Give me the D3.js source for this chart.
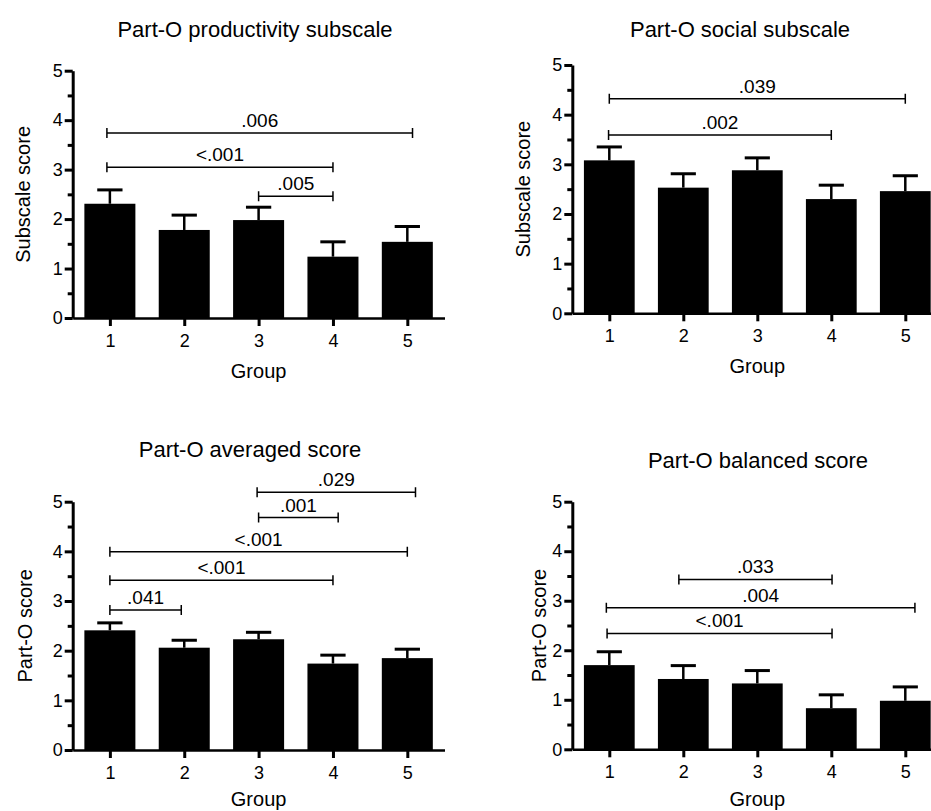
<!DOCTYPE html>
<html>
<head>
<meta charset="utf-8">
<script src="https://cdn.jsdelivr.net/npm/d3@7"></script>
<style>
  body { margin: 0; background: #fff; }
  svg { display: block; font-family: "Liberation Sans", Arial, sans-serif; }
</style>
</head>
<body>
<svg width="931" height="811"></svg>
<script>
// categories and ticks
var groups = [1, 2, 3, 4, 5];
var yTicks = [0, 1, 2, 3, 4, 5];
var yMinorTicks = [0.5, 1.5, 2.5, 3.5, 4.5];

// means and SEM
var productivityMean = [2.31, 1.78, 1.98, 1.24, 1.54];
var productivitySem  = [0.28, 0.30, 0.26, 0.30, 0.31];
var socialMean = [3.08, 2.53, 2.88, 2.30, 2.46];
var socialSem  = [0.27, 0.28, 0.25, 0.28, 0.31];
var averagedMean = [2.41, 2.06, 2.23, 1.74, 1.85];
var averagedSem  = [0.15, 0.15, 0.14, 0.17, 0.18];
var balancedMean = [1.70, 1.42, 1.33, 0.83, 0.98];
var balancedSem  = [0.27, 0.27, 0.26, 0.27, 0.28];

// significance brackets: [from group, to group, height, p label]
var productivityPairs = [[0.96, 5.07, 3.74, ".006"], [0.96, 4.0, 3.05, "<.001"], [3.0, 4.0, 2.46, ".005"]];
var socialPairs = [[1.0, 5.0, 4.32, ".039"], [0.99, 4.0, 3.59, ".002"]];
var averagedPairs = [[2.98, 5.11, 5.19, ".029"], [3.0, 4.07, 4.68, ".001"], [1.0, 5.0, 3.99, "<.001"],
                     [1.0, 4.0, 3.42, "<.001"], [1.0, 1.96, 2.82, ".041"]];
var balancedPairs = [[1.94, 4.01, 3.43, ".033"], [0.96, 5.13, 2.86, ".004"], [0.97, 4.01, 2.34, "<.001"]];

var svg = d3.select("svg");
var barW = 0.686, capW = 0.34;

var panels = [
  {title: "Part-O productivity subscale", ylab: "Subscale score", mean: productivityMean, sem: productivitySem,
   pairs: productivityPairs, left: 72.7, right: 444.5, top: 70.7, bottom: 318, titleX: 255, titleY: 37, ylabOff: 43},
  {title: "Part-O social subscale", ylab: "Subscale score", mean: socialMean, sem: socialSem,
   pairs: socialPairs, left: 572.3, right: 942.3, top: 65, bottom: 313.3, titleX: 740, titleY: 37, ylabOff: 42},
  {title: "Part-O averaged score", ylab: "Part-O score", mean: averagedMean, sem: averagedSem,
   pairs: averagedPairs, left: 72.7, right: 444.5, top: 501.7, bottom: 750, titleX: 250, titleY: 457, ylabOff: 41},
  {title: "Part-O balanced score", ylab: "Part-O score", mean: balancedMean, sem: balancedSem,
   pairs: balancedPairs, left: 572.3, right: 942.3, top: 501.7, bottom: 749.3, titleX: 758, titleY: 468, ylabOff: 26}
];

panels.forEach(function(p) {
  var g = svg.append("g");
  var x = d3.scaleLinear().domain([0.5, 5.5]).range([p.left, p.right]);
  var y = d3.scaleLinear().domain([0, 5]).range([p.bottom, p.top]);

  // error bars (upper only)
  var err = g.append("g").attr("stroke", "#000");
  err.selectAll("line.v").data(p.mean).enter().append("line")
    .attr("x1", (d, i) => x(groups[i])).attr("x2", (d, i) => x(groups[i]))
    .attr("y1", d => y(d)).attr("y2", (d, i) => y(d + p.sem[i]))
    .attr("stroke-width", 2.5);
  err.selectAll("line.cap").data(p.mean).enter().append("line")
    .attr("x1", (d, i) => x(groups[i] - capW / 2)).attr("x2", (d, i) => x(groups[i] + capW / 2))
    .attr("y1", (d, i) => y(d + p.sem[i])).attr("y2", (d, i) => y(d + p.sem[i]))
    .attr("stroke-width", 3);

  // bars
  g.selectAll("rect").data(p.mean).enter().append("rect")
    .attr("x", (d, i) => x(groups[i] - barW / 2))
    .attr("width", x(barW) - x(0))
    .attr("y", d => y(d))
    .attr("height", d => y(0) - y(d))
    .attr("fill", "#000");

  // axes
  var ya = g.append("g").attr("transform", "translate(" + p.left + ",0)")
    .call(d3.axisLeft(y).tickValues(yTicks).tickFormat(d3.format("d")).tickSize(8).tickSizeOuter(0).tickPadding(2));
  ya.select(".domain").attr("stroke-width", 3);
  ya.selectAll(".tick line").attr("stroke-width", 3);
  ya.selectAll("text").attr("font-size", 18).attr("fill", "#000").style("font-family", "inherit");
  var ym = g.append("g").attr("transform", "translate(" + p.left + ",0)")
    .call(d3.axisLeft(y).tickValues(yMinorTicks).tickFormat("").tickSize(5).tickSizeOuter(0));
  ym.select(".domain").remove();
  ym.selectAll(".tick line").attr("stroke-width", 3);

  var xa = g.append("g").attr("transform", "translate(0," + p.bottom + ")")
    .call(d3.axisBottom(x).tickValues(groups).tickFormat(d3.format("d")).tickSize(8).tickSizeOuter(0).tickPadding(8));
  xa.select(".domain").attr("stroke-width", 2.5);
  xa.selectAll(".tick line").attr("stroke-width", 3);
  xa.selectAll("text").attr("font-size", 18).attr("fill", "#000").style("font-family", "inherit");

  // significance brackets
  var br = g.append("g").selectAll("g").data(p.pairs).enter().append("g");
  br.append("path")
    .attr("d", d => "M" + x(d[0]) + "," + (y(d[2]) - 5) + "V" + (y(d[2]) + 5) +
                    "M" + x(d[0]) + "," + y(d[2]) + "H" + x(d[1]) +
                    "M" + x(d[1]) + "," + (y(d[2]) - 5) + "V" + (y(d[2]) + 5))
    .attr("fill", "none").attr("stroke", "#000").attr("stroke-width", 1.5);
  br.append("text")
    .attr("x", d => (x(d[0]) + x(d[1])) / 2)
    .attr("y", d => y(d[2]) - 6)
    .attr("text-anchor", "middle").attr("font-size", 19)
    .text(d => d[3]);

  // labels
  g.append("text").attr("x", p.titleX).attr("y", p.titleY)
    .attr("text-anchor", "middle").attr("font-size", 22).text(p.title);
  g.append("text").attr("x", (p.left + p.right) / 2).attr("y", Math.min(p.bottom + 60, 806))
    .attr("text-anchor", "middle").attr("font-size", 20).text("Group");
  g.append("text")
    .attr("transform", "translate(" + (p.left - p.ylabOff) + "," + ((p.top + p.bottom) / 2) + ") rotate(-90)")
    .attr("text-anchor", "middle").attr("font-size", 20).text(p.ylab);
});
</script>
</body>
</html>
